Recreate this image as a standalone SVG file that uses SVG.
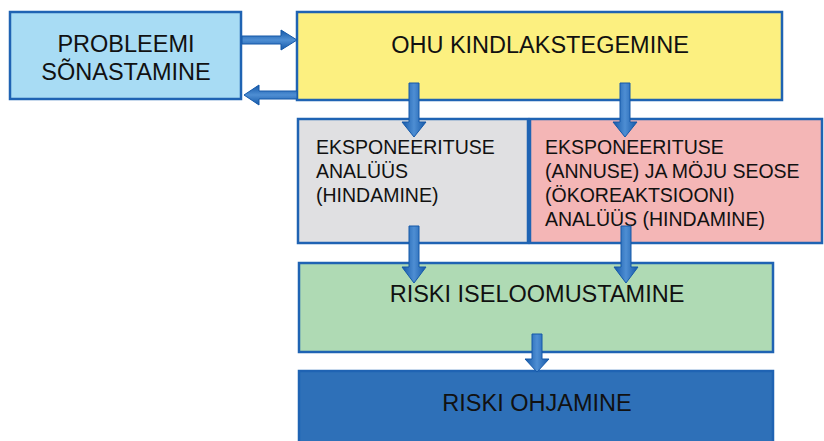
<svg xmlns="http://www.w3.org/2000/svg" width="824" height="441" viewBox="0 0 824 441">
<defs>
<linearGradient id="gv" x1="0" y1="0" x2="1" y2="0">
<stop offset="0" stop-color="#1458A8"/><stop offset="0.5" stop-color="#4E8ED3"/><stop offset="1" stop-color="#1458A8"/>
</linearGradient>
<linearGradient id="gh" x1="0" y1="0" x2="0" y2="1">
<stop offset="0" stop-color="#1458A8"/><stop offset="0.5" stop-color="#4E8ED3"/><stop offset="1" stop-color="#1458A8"/>
</linearGradient>
<style>
.box{stroke:#1F63B3;stroke-width:2.5}
.t{font-family:"Liberation Sans",Arial,sans-serif;fill:#111}
.big{font-size:23.5px}
.mid{font-size:19.5px}
.av{fill:url(#gv);stroke:#1458A8;stroke-width:1}
.ah{fill:url(#gh);stroke:#1458A8;stroke-width:1}
</style>
</defs>
<rect width="824" height="441" fill="#fff"/>
<g id="problem">
<rect class="box" x="10" y="12" width="231" height="87" fill="#A8DCF4"/>
<text class="t big" x="126" y="52" text-anchor="middle">PROBLEEMI</text>
<text class="t big" x="126" y="80" text-anchor="middle">SÕNASTAMINE</text>
</g>
<g id="ohu">
<rect class="box" x="297" y="12" width="485" height="88" fill="#FCF080"/>
<text class="t big" x="540" y="53" text-anchor="middle">OHU KINDLAKSTEGEMINE</text>
</g>
<g id="ekspon">
<rect class="box" x="298" y="119" width="230" height="124" fill="#E0E0E2"/>
<text class="t mid" x="316" y="154">EKSPONEERITUSE</text>
<text class="t mid" x="316" y="178">ANALÜÜS</text>
<text class="t mid" x="316" y="202">(HINDAMINE)</text>
</g>
<g id="annus">
<rect class="box" x="530" y="119" width="292" height="124" fill="#F4B6B6"/>
<text class="t mid" x="545" y="154">EKSPONEERITUSE</text>
<text class="t mid" x="545" y="178">(ANNUSE) JA MÖJU SEOSE</text>
<text class="t mid" x="545" y="202">(ÖKOREAKTSIOONI)</text>
<text class="t mid" x="545" y="226">ANALÜÜS (HINDAMINE)</text>
</g>
<g id="iseloom">
<rect class="box" x="299" y="263" width="474" height="89" fill="#AFDAB4"/>
<text class="t big" x="537" y="302" text-anchor="middle">RISKI ISELOOMUSTAMINE</text>
</g>
<g id="ohjamine">
<rect class="box" x="299" y="371" width="474" height="74" fill="#2E70B8"/>
<text class="t big" x="537" y="411" text-anchor="middle">RISKI OHJAMINE</text>
</g>
<g id="connectors">
<polygon class="ah" points="242,36 281,36 281,30 297,40 281,50 281,44 242,44"/>
<polygon class="ah" points="297,91 259,91 259,85 244,95 259,105 259,99 297,99"/>
<polygon class="av" points="409,83 419,83 419,122 426,122 414,137 402,122 409,122"/>
<polygon class="av" points="620,83 630,83 630,122 637,122 625,137 613,122 620,122"/>
<polygon class="av" points="409,226 419,226 419,267 426,267 414,283 402,267 409,267"/>
<polygon class="av" points="621,226 631,226 631,267 638,267 626,283 614,267 621,267"/>
<polygon class="av" points="532,334 542,334 542,359 549,359 537,372 525,359 532,359"/>
</g>
</svg>
